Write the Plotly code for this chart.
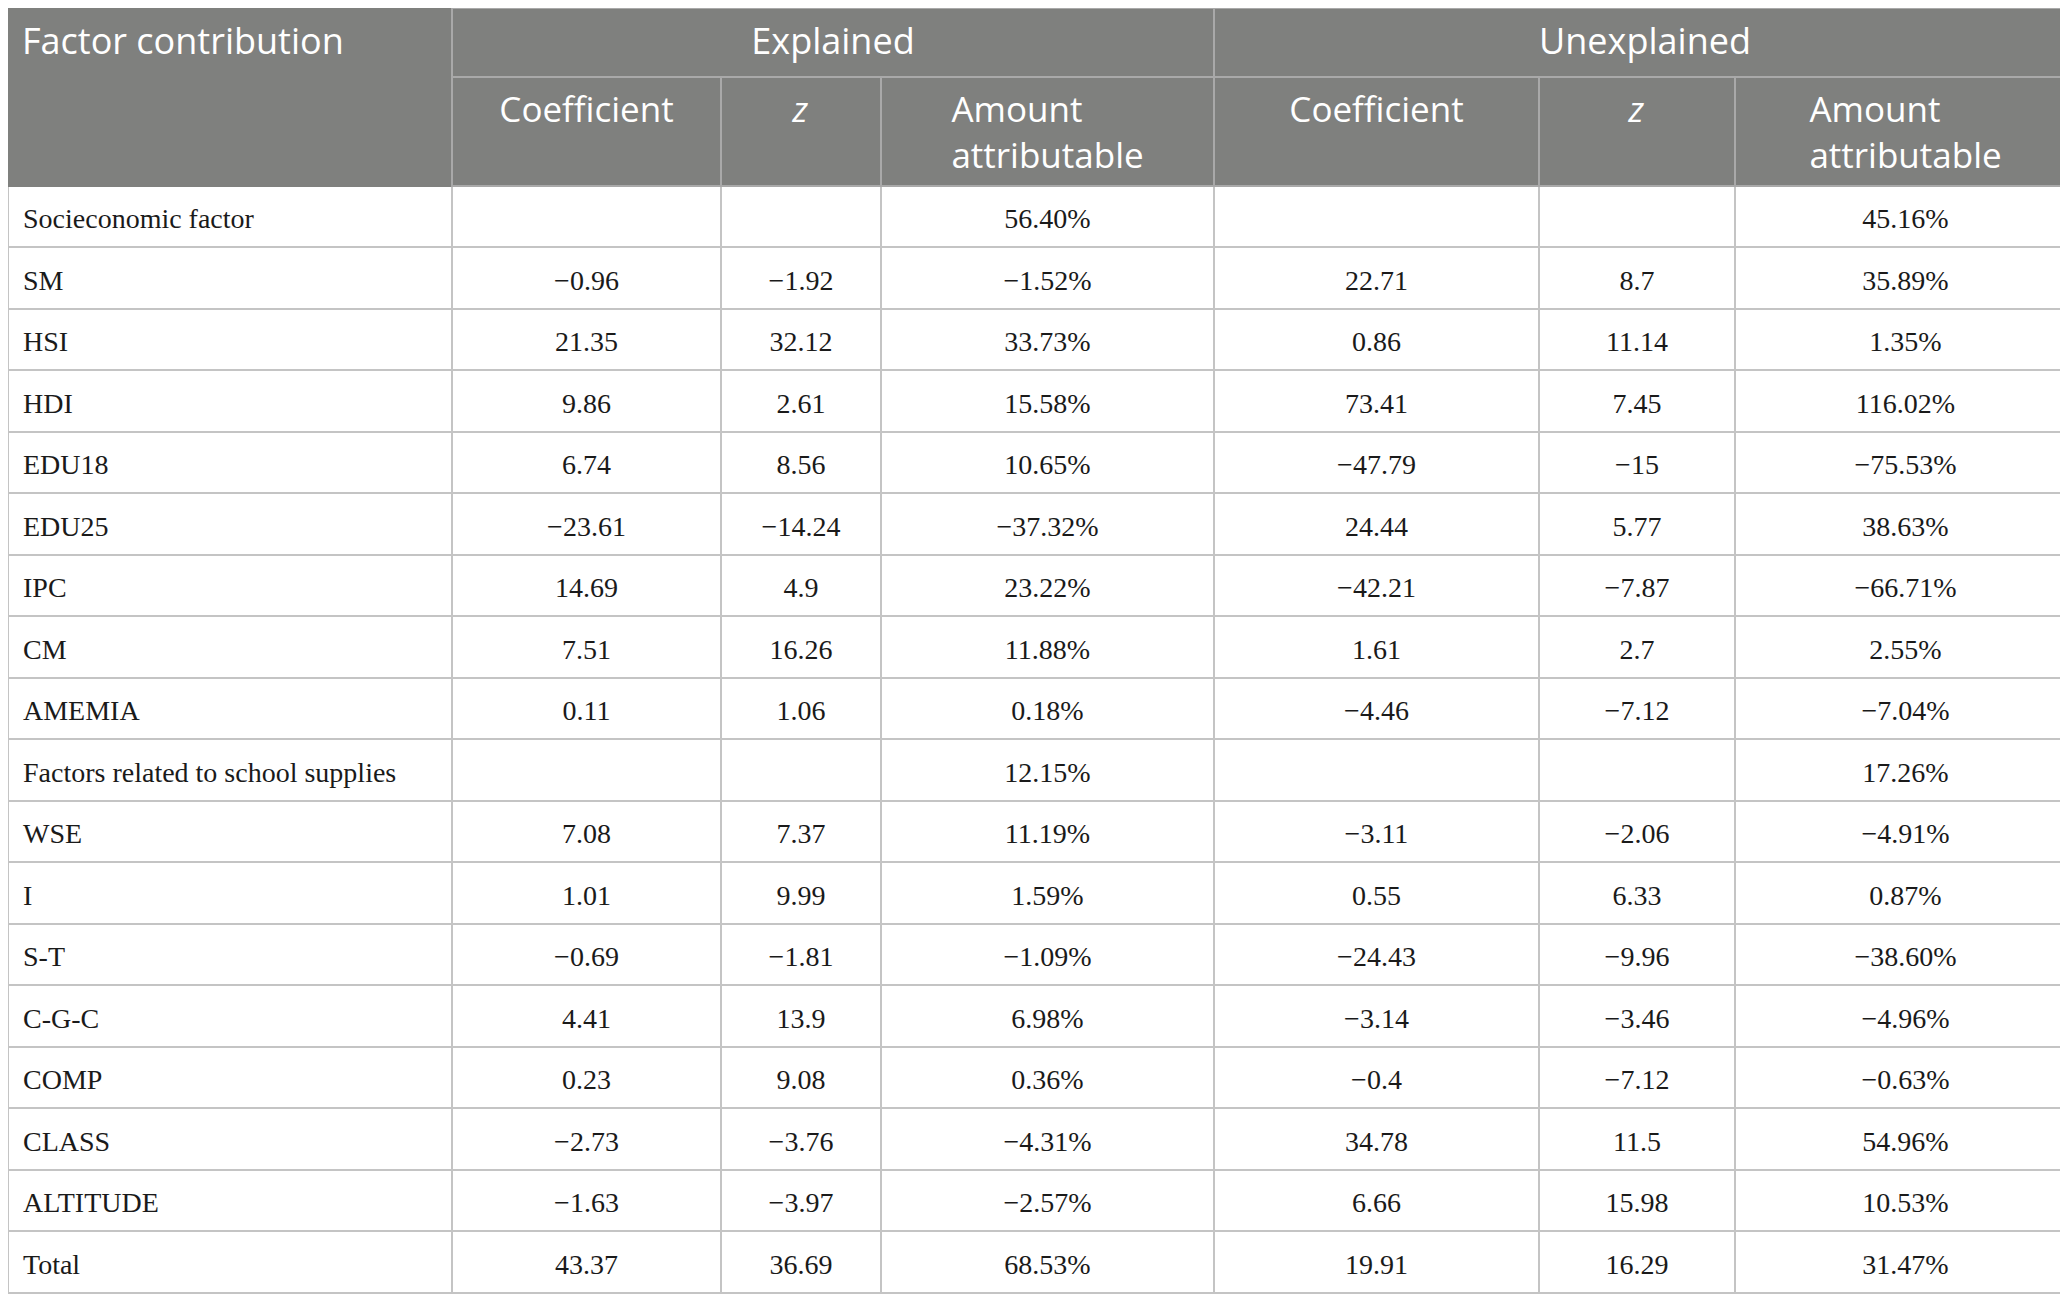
import plotly.graph_objects as go

# rows of the decomposition table
factors = ["Socieconomic factor", "SM", "HSI", "HDI", "EDU18", "EDU25", "IPC", "CM",
           "AMEMIA", "Factors related to school supplies", "WSE", "I", "S-T", "C-G-C",
           "COMP", "CLASS", "ALTITUDE", "Total"]

exp_coef = [None, -0.96, 21.35, 9.86, 6.74, -23.61, 14.69, 7.51, 0.11,
            None, 7.08, 1.01, -0.69, 4.41, 0.23, -2.73, -1.63, 43.37]
exp_z = [None, -1.92, 32.12, 2.61, 8.56, -14.24, 4.9, 16.26, 1.06,
         None, 7.37, 9.99, -1.81, 13.9, 9.08, -3.76, -3.97, 36.69]
exp_amt = [56.40, -1.52, 33.73, 15.58, 10.65, -37.32, 23.22, 11.88, 0.18,
           12.15, 11.19, 1.59, -1.09, 6.98, 0.36, -4.31, -2.57, 68.53]

unexp_coef = [None, 22.71, 0.86, 73.41, -47.79, 24.44, -42.21, 1.61, -4.46,
              None, -3.11, 0.55, -24.43, -3.14, -0.4, 34.78, 6.66, 19.91]
unexp_z = [None, 8.7, 11.14, 7.45, -15, 5.77, -7.87, 2.7, -7.12,
           None, -2.06, 6.33, -9.96, -3.46, -7.12, 11.5, 15.98, 16.29]
unexp_amt = [45.16, 35.89, 1.35, 116.02, -75.53, 38.63, -66.71, 2.55, -7.04,
             17.26, -4.91, 0.87, -38.60, -4.96, -0.63, 54.96, 10.53, 31.47]

top_headers = ["Factor contribution", "Explained", "Unexplained"]
sub_headers = ["", "Coefficient", "<i>z</i>", "Amount<br>attributable",
               "Coefficient", "<i>z</i>", "Amount<br>attributable"]

HEAD_BG = "#7f807e"
HEAD_LINE = "#a9a9a9"
CELL_LINE = "#c4c4c4"
W, H = 2068, 1313
BODY_SIZE = 28


def span(s):
    # markup text is laid out a little lower in plotly table cells
    return "<span>" + s + "</span>" if s else ""


def cell(s):
    # a blank small first line pushes the value down towards the middle of the row
    if not s:
        return ""
    return "\u00a0<br><span style='font-size:%dpx'>%s</span>" % (BODY_SIZE, s)


def num(v):
    if v is None:
        return ""
    return cell(f"{v:g}".replace("-", "\u2212"))


def pct(v):
    if v is None:
        return ""
    return cell(f"{v:.2f}%".replace("-", "\u2212"))


first_col = [cell("\u00a0" + f) for f in factors]

mid_y = 1 - 69 / H

fig = go.Figure()

# sub headers + body
fig.add_trace(go.Table(
    domain=dict(x=[0, 1], y=[0, mid_y]),
    columnwidth=[444, 269, 160, 333, 325, 196, 341],
    header=dict(values=[span(h) for h in sub_headers],
                fill_color=HEAD_BG,
                line=dict(color=[HEAD_BG] + [HEAD_LINE] * 6, width=2),
                align="center",
                font=dict(family="Open Sans", size=35, color="white"),
                height=108),
    cells=dict(values=[first_col,
                       [num(v) for v in exp_coef],
                       [num(v) for v in exp_z],
                       [pct(v) for v in exp_amt],
                       [num(v) for v in unexp_coef],
                       [num(v) for v in unexp_z],
                       [pct(v) for v in unexp_amt]],
               fill_color="white",
               line=dict(color=CELL_LINE, width=2),
               align=["left"] + ["center"] * 6,
               font=dict(family="Liberation Serif", size=16, color="#1a1a1a"),
               height=61.5),
))

# merged top header row
fig.add_trace(go.Table(
    domain=dict(x=[0, 1], y=[mid_y, 1]),
    columnwidth=[444, 762, 862],
    header=dict(values=[span("\u2009" + top_headers[0]), span(top_headers[1]), span(top_headers[2])],
                fill_color=HEAD_BG,
                line=dict(color=[HEAD_BG, HEAD_LINE, HEAD_LINE], width=2),
                align=["left", "center", "center"],
                font=dict(family="Open Sans", size=36, color="white"),
                height=69),
    cells=dict(values=[[""], [""], [""]], height=1,
               fill_color=HEAD_BG, line=dict(color=HEAD_BG, width=0)),
))

fig.update_layout(width=W, height=H, margin=dict(l=0, r=0, t=0, b=0),
                  paper_bgcolor="white")

fig.write_html("out.html")
